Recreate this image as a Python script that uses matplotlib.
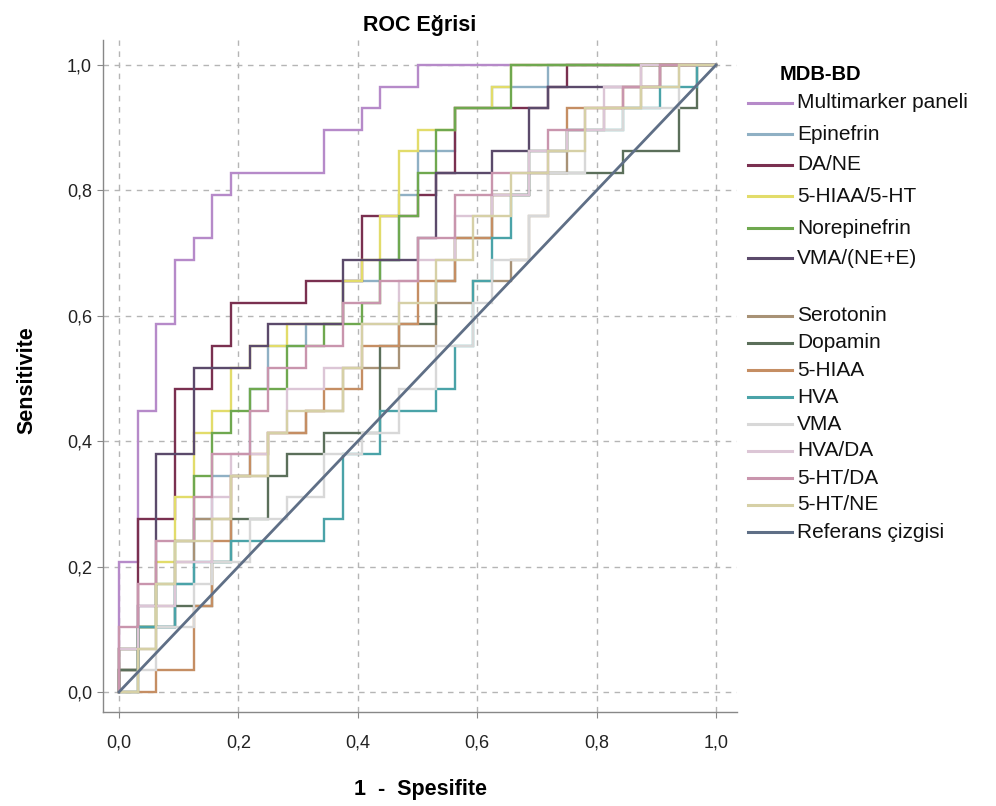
import matplotlib
matplotlib.use("Agg")
import matplotlib.pyplot as plt
from matplotlib.lines import Line2D

plt.rcParams['font.family'] = ['Liberation Sans', 'DejaVu Sans']

# ROC vertices as (false-positive count, true-positive count); n_neg=32, n_pos=29
N_NEG = 32
N_POS = 29

multimarker = [(0,0),(0,6),(1,6),(1,13),(2,13),(2,17),(3,17),(3,20),(4,20),(4,21),(5,21),(5,23),(6,23),(6,24),(11,24),(11,26),(13,26),(13,27),(14,27),(14,28),(16,28),(16,29),(32,29)]
epinefrin = [(0,0),(0,1),(1,1),(1,3),(3,3),(3,5),(4,5),(4,8),(5,8),(5,10),(7,10),(7,14),(8,14),(8,16),(10,16),(10,17),(12,17),(12,19),(14,19),(14,20),(15,20),(15,23),(16,23),(16,25),(18,25),(18,27),(20,27),(20,28),(23,28),(23,29),(32,29)]
da_ne = [(0,0),(0,2),(1,2),(1,8),(3,8),(3,14),(5,14),(5,16),(6,16),(6,18),(10,18),(10,19),(13,19),(13,22),(16,22),(16,23),(17,23),(17,24),(18,24),(18,27),(23,27),(23,28),(24,28),(24,29),(32,29)]
hiaa_ht = [(0,0),(0,1),(1,1),(1,3),(2,3),(2,6),(3,6),(3,9),(4,9),(4,12),(5,12),(5,13),(6,13),(6,15),(7,15),(7,16),(9,16),(9,17),(12,17),(12,19),(13,19),(13,20),(14,20),(14,22),(15,22),(15,25),(16,25),(16,26),(18,26),(18,27),(20,27),(20,28),(21,28),(21,29),(32,29)]
norepinefrin = [(0,0),(0,2),(1,2),(1,3),(2,3),(2,5),(3,5),(3,7),(4,7),(4,10),(5,10),(5,12),(6,12),(6,13),(7,13),(7,14),(9,14),(9,16),(11,16),(11,17),(13,17),(13,18),(14,18),(14,20),(15,20),(15,22),(16,22),(16,24),(17,24),(17,26),(18,26),(18,27),(21,27),(21,29),(32,29)]
vma_ne_e = [(0,0),(0,1),(1,1),(1,4),(2,4),(2,11),(4,11),(4,15),(7,15),(7,16),(8,16),(8,17),(12,17),(12,20),(16,20),(16,21),(17,21),(17,24),(20,24),(20,25),(22,25),(22,27),(23,27),(23,28),(29,28),(29,29),(32,29)]
serotonin = [(0,0),(1,0),(1,2),(2,2),(2,4),(3,4),(3,6),(4,6),(4,8),(6,8),(6,10),(8,10),(8,12),(10,12),(10,13),(12,13),(12,15),(15,15),(15,16),(17,16),(17,18),(19,18),(19,19),(21,19),(21,20),(22,20),(22,22),(23,22),(23,24),(24,24),(24,26),(26,26),(26,27),(28,27),(28,29),(32,29)]
dopamin = [(0,0),(0,1),(1,1),(1,3),(3,3),(3,4),(5,4),(5,6),(6,6),(6,8),(8,8),(8,10),(9,10),(9,11),(11,11),(11,12),(14,12),(14,16),(15,16),(15,17),(17,17),(17,19),(18,19),(18,21),(20,21),(20,23),(22,23),(22,24),(27,24),(27,25),(30,25),(30,27),(31,27),(31,29),(32,29)]
hiaa = [(0,0),(2,0),(2,1),(4,1),(4,4),(5,4),(5,7),(6,7),(6,10),(7,10),(7,11),(8,11),(8,12),(10,12),(10,13),(11,13),(11,14),(13,14),(13,16),(15,16),(15,17),(16,17),(16,19),(18,19),(18,21),(20,21),(20,23),(22,23),(22,25),(24,25),(24,27),(27,27),(27,28),(29,28),(29,29),(32,29)]
hva = [(0,0),(1,0),(1,3),(3,3),(3,5),(4,5),(4,6),(6,6),(6,7),(11,7),(11,8),(12,8),(12,11),(14,11),(14,13),(17,13),(17,14),(18,14),(18,16),(19,16),(19,19),(20,19),(20,21),(21,21),(21,23),(22,23),(22,25),(24,25),(24,26),(27,26),(27,27),(29,27),(29,28),(31,28),(31,29),(32,29)]
vma = [(0,0),(1,0),(1,1),(2,1),(2,3),(4,3),(4,5),(5,5),(5,6),(7,6),(7,8),(9,8),(9,9),(11,9),(11,11),(13,11),(13,12),(15,12),(15,14),(17,14),(17,16),(19,16),(19,18),(20,18),(20,20),(22,20),(22,22),(23,22),(23,24),(25,24),(25,26),(27,26),(27,27),(30,27),(30,29),(32,29)]
hva_da = [(0,0),(0,2),(1,2),(1,4),(3,4),(3,6),(5,6),(5,9),(6,9),(6,11),(8,11),(8,12),(9,12),(9,14),(11,14),(11,15),(13,15),(13,17),(15,17),(15,19),(16,19),(16,20),(18,20),(18,22),(20,22),(20,23),(22,23),(22,25),(24,25),(24,26),(26,26),(26,28),(28,28),(28,29),(32,29)]
ht_da = [(0,0),(0,3),(1,3),(1,5),(2,5),(2,7),(4,7),(4,9),(5,9),(5,11),(7,11),(7,13),(8,13),(8,15),(10,15),(10,16),(12,16),(12,18),(14,18),(14,19),(16,19),(16,21),(18,21),(18,23),(20,23),(20,24),(23,24),(23,26),(25,26),(25,27),(27,27),(27,28),(29,28),(29,29),(32,29)]
ht_ne = [(0,0),(1,0),(1,2),(2,2),(2,5),(3,5),(3,7),(5,7),(5,8),(6,8),(6,10),(8,10),(8,12),(9,12),(9,13),(12,13),(12,15),(13,15),(13,17),(15,17),(15,18),(17,18),(17,20),(19,20),(19,22),(21,22),(21,24),(23,24),(23,25),(25,25),(25,27),(28,27),(28,28),(30,28),(30,29),(32,29)]
reference = [(0,0),(32,29)]

labels_group1 = ["Multimarker paneli", "Epinefrin", "DA/NE", "5-HIAA/5-HT", "Norepinefrin", "VMA/(NE+E)"]
labels_group2 = ["Serotonin", "Dopamin", "5-HIAA", "HVA", "VMA", "HVA/DA", "5-HT/DA", "5-HT/NE", "Referans çizgisi"]
curves = [multimarker, epinefrin, da_ne, hiaa_ht, norepinefrin, vma_ne_e,
          serotonin, dopamin, hiaa, hva, vma, hva_da, ht_da, ht_ne, reference]
colors = ['#b68ac9', '#8fb0c4', '#7a3050', '#e2dc6a', '#6fa84f', '#5b4a6b',
          '#a89276', '#5b6f5a', '#c58e63', '#4aa3a8', '#d8d8d8', '#dcc6d6', '#c995ad', '#d6d0a6', '#5f6f86']
tick_vals = [0.0, 0.2, 0.4, 0.6, 0.8, 1.0]
tick_labels = ["0,0", "0,2", "0,4", "0,6", "0,8", "1,0"]

W, H = 996, 806
fig = plt.figure(figsize=(W/100, H/100), dpi=100)
L, R, T, B = 103, 737, 40, 712
ax = fig.add_axes([L/W, 1-B/H, (R-L)/W, (B-T)/H])

x0, x1 = 119, 716
y0, y1 = 692, 65
sx = (x1-x0)
sy = (y0-y1)
ax.set_xlim((L-x0)/sx, (R-x0)/sx)
ax.set_ylim((y0-B)/sy, (y0-T)/sy)

for v in tick_vals:
    ax.axvline(v, color='#b5b5b5', lw=1.0, ls=(0, (4, 4)), zorder=0)
    ax.axhline(v, color='#b5b5b5', lw=1.0, ls=(0, (4, 4)), zorder=0)

all_labels = labels_group1 + labels_group2
handles = []
for cur, col, lab in zip(curves, colors, all_labels):
    xs = [p[0]/N_NEG for p in cur]
    ys = [p[1]/N_POS for p in cur]
    lw = 2.0 if lab == "Referans çizgisi" else 1.7
    h, = ax.plot(xs, ys, color=col, lw=lw, label=lab, solid_joinstyle='miter')
    handles.append(h)

ax.set_xticks(tick_vals)
ax.set_xticklabels(tick_labels)
ax.set_yticks(tick_vals)
ax.set_yticklabels(tick_labels)
ax.tick_params(axis='both', labelsize=13, length=4, color='#888888', labelcolor='#222222')
ax.tick_params(axis='x', pad=12)
ax.tick_params(axis='y', pad=4)
for s in ['top', 'right']:
    ax.spines[s].set_visible(False)
for s in ['left', 'bottom']:
    ax.spines[s].set_color('#888888')
    ax.spines[s].set_linewidth(1.0)

fig.text(420/W, 1-25/H, "ROC Eğrisi", ha='center', va='center', fontsize=15.5, fontweight='bold')
fig.text(420/W, 1-790/H, "1  -  Spesifite", ha='center', va='center', fontsize=15.5, fontweight='bold')
fig.text(27/W, 1-380/H, "Sensitivite", ha='center', va='center', rotation=90, fontsize=15.5, fontweight='bold')

# legend
fig.text(780/W, 1-75/H, "MDB-BD", ha='left', va='center', fontsize=14.5, fontweight='bold')
ys_leg = [103, 134, 165, 196, 228, 258, 316, 343, 370, 397, 424, 451, 478, 505, 532]
for h, yl in zip(handles, ys_leg):
    fig.add_artist(Line2D([748/W, 792/W], [1-yl/H, 1-yl/H], color=h.get_color(), lw=2.2,
                          transform=fig.transFigure))
    fig.text(797/W, 1-yl/H, h.get_label(), ha='left', va='center', fontsize=15, color='#111111')

fig.savefig("out.png", dpi=100)
